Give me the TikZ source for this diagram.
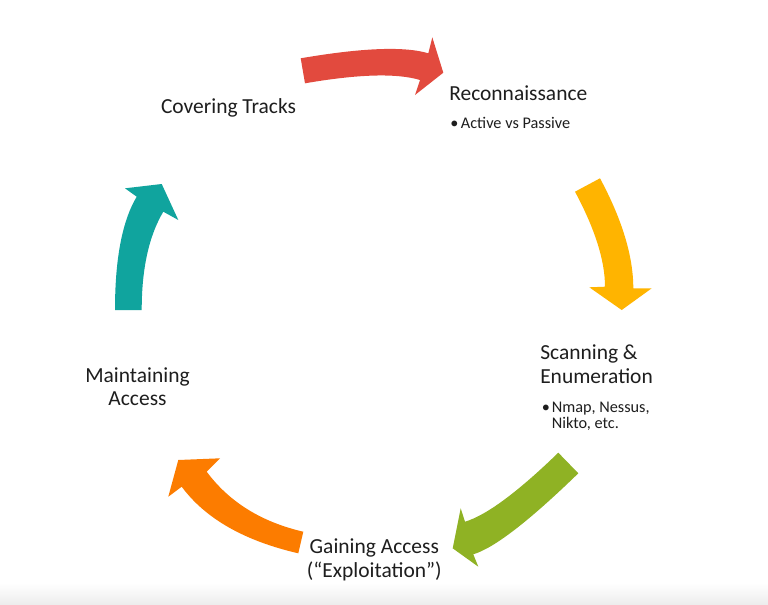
\documentclass[tikz,border=0pt]{standalone}
\usepackage{fontspec}
\setmainfont{Carlito}

\definecolor{redarrow}{RGB}{226,74,62}
\definecolor{amberarrow}{RGB}{255,180,0}
\definecolor{olivearrow}{RGB}{143,178,36}
\definecolor{orangearrow}{RGB}{252,124,0}
\definecolor{tealarrow}{RGB}{16,164,158}
\definecolor{ink}{RGB}{30,30,30}

\begin{document}
\begin{tikzpicture}[x=0.75pt,y=-0.75pt,
  stage/.style={font=\fontsize{16.1}{17.5}\selectfont, text=ink, inner sep=0pt},
  note/.style={font=\fontsize{12.2}{11.6}\selectfont, text=ink, inner sep=0pt},
  band/.style={draw=none}]
\useasboundingbox (0,0) rectangle (768,604);
\fill[white] (0,0) rectangle (768,604);
\shade[top color=white, bottom color=black!7] (0,583) rectangle (768,604);

% curved block arrows, clockwise round the cycle
\fill[band, redarrow]
  (300.7,58.3) .. controls (361.8,47.8) and (404.4,46.1) .. (428.3,53.3)
  -- (432.3,37.3) -- (443.3,72.7) -- (415,95) -- (420,80)
  .. controls (396.7,73.0) and (358.3,74.1) .. (305,83.3) -- cycle;
\fill[band, amberarrow]
  (575,191.7) -- (600,178.3) .. controls (622.2,219.7) and (633.3,256.4) .. (633.3,288.3)
  -- (651.7,288.3) -- (621.7,310) -- (589.3,287.3) -- (605,286.7)
  .. controls (605,260.7) and (595,229.0) .. cycle;
\fill[band, olivearrow]
  (558.3,452.7) -- (578.3,473.3) .. controls (529.2,521.0) and (494.2,548.0) .. (473.3,554.3)
  -- (478.3,566.7) -- (452.7,548.3) -- (460.7,508.3) -- (465,521.7)
  .. controls (486.5,515.2) and (517.6,492.2) .. cycle;
\fill[band, orangearrow]
  (303.3,531.7) -- (298.3,553.3) .. controls (244.2,540.8) and (205.4,518.6) .. (181.7,486.7)
  -- (168.3,496.7) -- (178.3,460) -- (220,458.3) -- (206.7,471.7)
  .. controls (229.2,502.0) and (261.4,522.0) .. cycle;
\fill[band, tealarrow]
  (115,310) -- (141.7,310) .. controls (141.7,268.7) and (148.9,235.9) .. (163.3,211.7)
  -- (178.3,220) -- (161.7,184) -- (125,188.3) -- (136.7,196.7)
  .. controls (122.2,221.0) and (115,258.8) .. cycle;

% stage labels (a multi-line node sits on the baseline of its last line)
\node[stage, anchor=base] (cover) at (228.5,113.5) {Covering Tracks};
\node[stage, anchor=base west] (recon) at (449,100.7) {Reconnaissance};
\node[note, anchor=base west] (reconnote) at (450,128)
  {\makebox[8pt][l]{\textbullet}Active vs Passive};
\node[stage, anchor=base west, align=left] (scan) at (540,383.3)
  {Scanning \&\\Enumeration};
\node[note, anchor=base west, align=left] (scannote) at (541.5,428)
  {\makebox[7.5pt][l]{\textbullet}Nmap, Nessus,\\\hspace*{7.5pt}Nikto, etc.};
\node[stage, anchor=base, align=center] (gain) at (374.3,577)
  {Gaining Access\\(“Exploitation”)};
\node[stage, anchor=base, align=center] (maint) at (137.5,405.5)
  {Maintaining\\Access};
\end{tikzpicture}
\end{document}
